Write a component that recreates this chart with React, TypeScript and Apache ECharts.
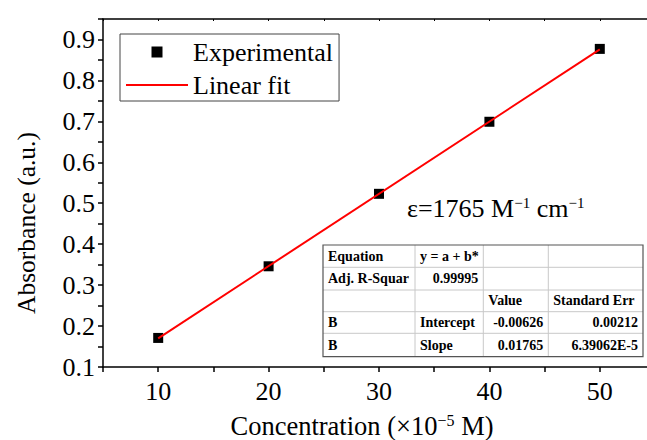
import React, { useEffect, useRef } from "react";
import * as echarts from "echarts";

const concentration = [10, 20, 30, 40, 50];
const absorbance = [0.171, 0.346, 0.523, 0.699, 0.877];
const fitX = [10, 50];
const fitY = [0.17, 0.876];

const tableCol1 = ["Equation", "Adj. R-Squar", "", "B", "B"];
const tableCol2 = ["y = a + b*", "0.99995", "", "Intercept", "Slope"];
const tableCol3 = ["", "", "Value", "-0.00626", "0.01765"];
const tableCol4 = ["", "", "Standard Err", "0.00212", "6.39062E-5"];

const FONT = "Liberation Serif";

export default function App() {
  const ref = useRef<HTMLDivElement>(null);
  useEffect(() => {
    if (!ref.current) return;
    const chart = echarts.init(ref.current, null, { renderer: "svg" });

    const tx = 323, ty = 245, tw = 320;
    const rowYs = [245, 267.3, 290, 311.7, 333.3, 356.7];
    const colXs = [323, 415, 483.3, 548.3, 643];
    const th = rowYs[5] - rowYs[0];
    const tableEls: any[] = [];
    tableEls.push({
      type: "rect",
      shape: { x: tx, y: ty, width: tw, height: th },
      style: { fill: "#fff", stroke: "none" },
      z: 10,
    });
    for (let i = 1; i < 5; i++) {
      tableEls.push({
        type: "line",
        shape: { x1: tx, y1: rowYs[i], x2: tx + tw, y2: rowYs[i] },
        style: { stroke: "#c8c8c8", lineWidth: 1 },
        z: 11,
      });
    }
    for (let i = 1; i < 4; i++) {
      tableEls.push({
        type: "line",
        shape: { x1: colXs[i], y1: ty, x2: colXs[i], y2: ty + th },
        style: { stroke: "#c8c8c8", lineWidth: 1 },
        z: 11,
      });
    }
    tableEls.push({
      type: "rect",
      shape: { x: tx, y: ty, width: tw, height: th },
      style: { fill: "none", stroke: "#555", lineWidth: 1.2 },
      z: 12,
    });
    const cols = [tableCol1, tableCol2, tableCol3, tableCol4];
    const rightAlign = (c: number, r: number) =>
      (c === 1 && r === 1) || ((c === 2 || c === 3) && r >= 3);
    cols.forEach((col, c) => {
      col.forEach((txt, r) => {
        if (!txt) return;
        const ra = rightAlign(c, r);
        tableEls.push({
          type: "text",
          x: ra ? colXs[c + 1] - 5 : colXs[c] + 5,
          y: (rowYs[r] + rowYs[r + 1]) / 2,
          style: {
            text: txt,
            fontFamily: FONT,
            fontSize: 14,
            fontWeight: "bold",
            fill: "#000",
            align: ra ? "right" : "left",
            verticalAlign: "middle",
          },
          z: 13,
        });
      });
    });

    const showTenth = (v: number) =>
      Math.abs(v * 10 - Math.round(v * 10)) < 1e-6;

    chart.setOption({
      animation: false,
      backgroundColor: "#fff",
      grid: { left: 103, top: 19, width: 552, height: 348, outerBoundsMode: "none", containLabel: false },
      legend: {
        orient: "vertical",
        left: 120,
        top: 34,
        padding: [5, 6, 3, 6],
        itemGap: 7,
        itemWidth: 62,
        itemHeight: 11,
        borderColor: "#444",
        borderWidth: 1,
        textStyle: { fontFamily: FONT, fontSize: 26, color: "#000" },
        data: [
          { name: "Experimental", icon: "path://M0 0H10V10H0Z", itemStyle: { color: "#000", opacity: 1 } },
          { name: "Linear fit", icon: "path://M0 0H62V2H0Z", itemStyle: { color: "#ff0000" } },
        ],
      },
      xAxis: [
        {
          type: "value",
          min: 5,
          max: 55,
          interval: 5,
          position: "bottom",
          name: "Concentration (×10{sup|−5} M)",
          nameLocation: "middle",
          nameGap: 45,
          nameTextStyle: {
            fontFamily: FONT,
            fontSize: 26.5,
            color: "#000",
            padding: [0, 34, 0, 0],
            rich: {
              sup: {
                fontFamily: FONT,
                fontSize: 16,
                color: "#000",
                verticalAlign: "top",
                padding: [0, 0, 10, 0],
              },
            },
          },
          axisLine: { show: true, onZero: false, lineStyle: { color: "#000", width: 1.5 } },
          axisTick: { show: true, length: 5, lineStyle: { color: "#000", width: 1.5 } },
          axisLabel: {
            fontFamily: FONT,
            fontSize: 26,
            color: "#000",
            margin: 11,
            formatter: (v: number) => (v % 10 === 0 && v > 5 && v < 55 ? String(v) : ""),
          },
          splitLine: { show: false },
        },
        {
          type: "value",
          min: 5,
          max: 55,
          interval: 5,
          position: "top",
          axisLine: { show: true, onZero: false, lineStyle: { color: "#000", width: 1.5 } },
          axisTick: { show: true, inside: true, length: 2, lineStyle: { color: "#000", width: 1 } },
          axisLabel: { show: false },
          splitLine: { show: false },
        },
      ],
      yAxis: {
        type: "value",
        min: 0.1,
        max: 0.95,
        interval: 0.05,
        name: "Absorbance (a.u.)",
        nameLocation: "middle",
        nameGap: 64,
        nameTextStyle: { fontFamily: FONT, fontSize: 25.5, color: "#000", padding: [0, 60, 0, 0] },
        axisLine: { show: true, onZero: false, lineStyle: { color: "#000", width: 1.5 } },
        axisTick: { show: true, length: 5, lineStyle: { color: "#000", width: 1.5 } },
        axisLabel: {
          fontFamily: FONT,
          fontSize: 26,
          color: "#000",
          margin: 8,
          formatter: (v: number) => (showTenth(v) && v < 0.93 ? v.toFixed(1) : ""),
        },
        splitLine: { show: false },
      },
      series: [
        {
          name: "Linear fit",
          type: "line",
          data: fitX.map((x, i) => [x, fitY[i]]),
          symbol: "none",
          showSymbol: false,
          lineStyle: { color: "#ff0000", width: 2 },
          itemStyle: { color: "#ff0000" },
          z: 3,
        },
        {
          name: "Experimental",
          type: "scatter",
          data: concentration.map((x, i) => [x, absorbance[i]]),
          symbol: "rect",
          symbolSize: 10,
          itemStyle: { color: "#000", opacity: 1 },
          z: 2,
        },
      ],
      graphic: [
        {
          type: "text",
          left: 407,
          top: 195,
          style: {
            text: "ε=1765 M{sup|−1} cm{sup|−1}",
            fontFamily: FONT,
            fontSize: 26,
            fill: "#000",
            rich: {
              sup: {
                fontFamily: FONT,
                fontSize: 15,
                fill: "#000",
                verticalAlign: "top",
                padding: [0, 0, 10, 0],
              },
            },
          },
          z: 10,
        },
        ...tableEls,
      ],
    });
    return () => chart.dispose();
  }, []);
  return (
    <div
      ref={ref}
      style={{ position: "fixed", left: 0, top: 0, width: 647, height: 440, overflow: "hidden", background: "#fff" }}
    />
  );
}
